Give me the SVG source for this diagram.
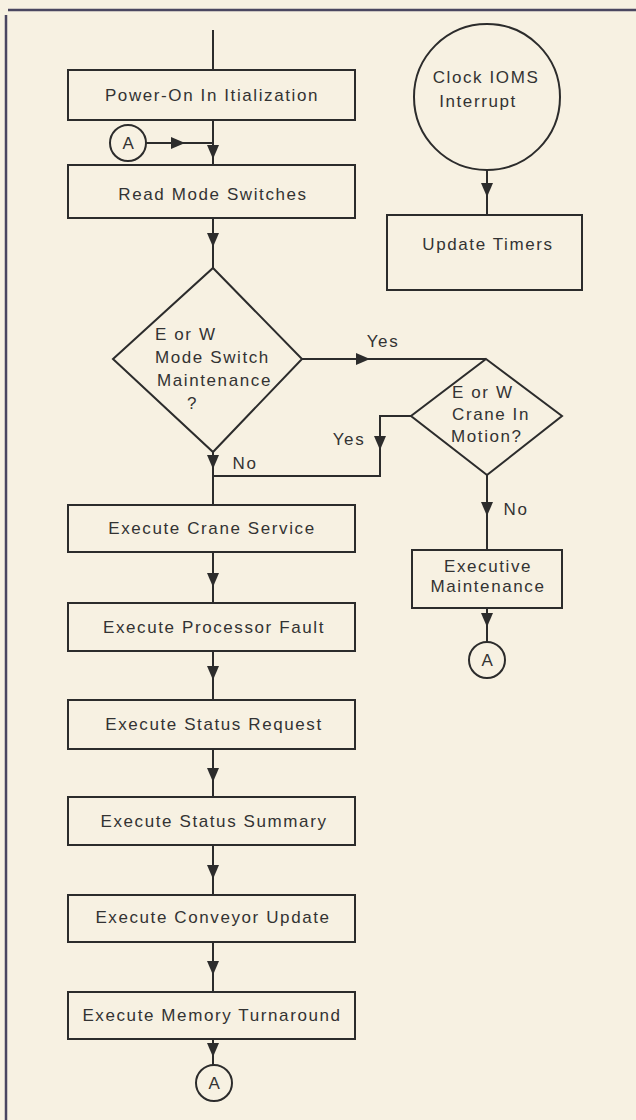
<svg xmlns="http://www.w3.org/2000/svg" width="636" height="1120" viewBox="0 0 636 1120">
<style>
.bg{fill:#f7f1e2}
.frame{stroke:#4a4660;stroke-width:2.5;fill:none}
.box{fill:none;stroke:#2c2c2c;stroke-width:2}
.ln{fill:none;stroke:#2c2c2c;stroke-width:2}
.ah{fill:#2c2c2c}
text{font-family:"Liberation Sans",Arial,sans-serif;font-size:17px;fill:#333;letter-spacing:1.6px}
.c{text-anchor:middle}
</style>
<defs>
<path id="ahd" class="ah" d="M-6,-7 L6,-7 L0,7 Z"/>
<path id="ahr" class="ah" d="M-7,-6 L-7,6 L7,0 Z"/>
</defs>
<rect class="bg" x="0" y="0" width="636" height="1120"/>
<g id="frame">
<line class="frame" x1="8" y1="10" x2="636" y2="10"/>
<line class="frame" x1="6" y1="15" x2="6" y2="1120"/>
</g>
<g id="connectors">
<path class="ln" d="M213,30 V70"/>
<path class="ln" d="M213,120 V165"/>
<path class="ln" d="M146,143 H213"/>
<path class="ln" d="M213,218 V268"/>
<path class="ln" d="M213,452 V505"/>
<path class="ln" d="M302,359 H486"/>
<path class="ln" d="M411,416 H380 V476 H213"/>
<path class="ln" d="M487,475 V550"/>
<path class="ln" d="M487,608 V642"/>
<path class="ln" d="M487,170 V215"/>
<path class="ln" d="M213,552 V603"/>
<path class="ln" d="M213,651 V700"/>
<path class="ln" d="M213,749 V797"/>
<path class="ln" d="M213,845 V895"/>
<path class="ln" d="M213,942 V992"/>
<path class="ln" d="M213,1039 V1065"/>
<use href="#ahr" x="178" y="143"/>
<use href="#ahd" x="213" y="152"/>
<use href="#ahd" x="213" y="240"/>
<use href="#ahd" x="213" y="462"/>
<use href="#ahr" x="363" y="359"/>
<use href="#ahd" x="380" y="443"/>
<use href="#ahd" x="487" y="509"/>
<use href="#ahd" x="487" y="620"/>
<use href="#ahd" x="487" y="190"/>
<use href="#ahd" x="213" y="580"/>
<use href="#ahd" x="213" y="673"/>
<use href="#ahd" x="213" y="775"/>
<use href="#ahd" x="213" y="872"/>
<use href="#ahd" x="213" y="968"/>
<use href="#ahd" x="213" y="1050"/>
<text x="383" y="347" class="c">Yes</text>
<text x="349" y="445" class="c">Yes</text>
<text x="245" y="469" class="c">No</text>
<text x="516" y="515" class="c">No</text>
</g>
<g id="n-power">
<rect class="box" x="68" y="70" width="287" height="50"/>
<text x="212" y="101" class="c">Power-On In Itialization</text>
</g>
<g id="n-a1">
<circle class="box" cx="128" cy="143" r="18"/>
<text x="129" y="149" class="c">A</text>
</g>
<g id="n-read">
<rect class="box" x="68" y="165" width="287" height="53"/>
<text x="213" y="200" class="c">Read Mode Switches</text>
</g>
<g id="n-dec1">
<path class="box" d="M213,268 L302,359 L213,452 L113,359 Z"/>
<text x="155" y="340">E or W</text>
<text x="155" y="363">Mode Switch</text>
<text x="157" y="386">Maintenance</text>
<text x="187" y="409">?</text>
</g>
<g id="n-dec2">
<path class="box" d="M486,359 L562,416 L487,475 L411,416 Z"/>
<text x="452" y="398">E or W</text>
<text x="452" y="420">Crane In</text>
<text x="451" y="442">Motion?</text>
</g>
<g id="n-execmaint">
<rect class="box" x="412" y="550" width="150" height="58"/>
<text x="488" y="572" class="c">Executive</text>
<text x="488" y="592" class="c">Maintenance</text>
</g>
<g id="n-a2">
<circle class="box" cx="487" cy="660" r="18"/>
<text x="488" y="666" class="c">A</text>
</g>
<g id="n-clock">
<circle class="box" cx="487" cy="97" r="73"/>
<text x="486" y="83" class="c">Clock IOMS</text>
<text x="478" y="107" class="c">Interrupt</text>
</g>
<g id="n-timers">
<rect class="box" x="387" y="215" width="195" height="75"/>
<text x="488" y="250" class="c">Update Timers</text>
</g>
<g id="n-crane">
<rect class="box" x="68" y="505" width="287" height="47"/>
<text x="212" y="534" class="c">Execute Crane Service</text>
</g>
<g id="n-fault">
<rect class="box" x="68" y="603" width="287" height="48"/>
<text x="214" y="633" class="c">Execute Processor Fault</text>
</g>
<g id="n-request">
<rect class="box" x="68" y="700" width="287" height="49"/>
<text x="214" y="730" class="c">Execute Status Request</text>
</g>
<g id="n-summary">
<rect class="box" x="68" y="797" width="287" height="48"/>
<text x="214" y="827" class="c">Execute Status Summary</text>
</g>
<g id="n-conveyor">
<rect class="box" x="68" y="895" width="287" height="47"/>
<text x="213" y="923" class="c">Execute Conveyor Update</text>
</g>
<g id="n-memory">
<rect class="box" x="68" y="992" width="287" height="47"/>
<text x="212" y="1021" class="c">Execute Memory Turnaround</text>
</g>
<g id="n-a3">
<circle class="box" cx="214" cy="1083" r="18"/>
<text x="215" y="1089" class="c">A</text>
</g>
</svg>
